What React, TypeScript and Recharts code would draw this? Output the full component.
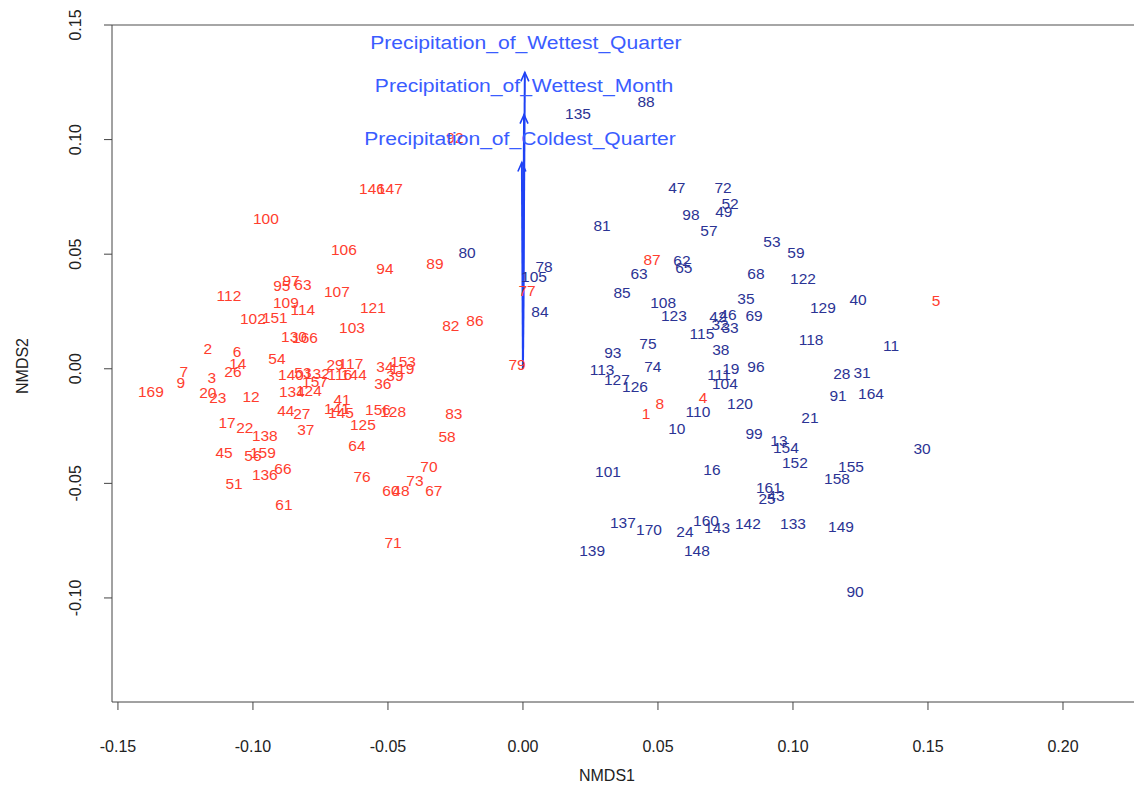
import { ScatterChart, Scatter, XAxis, YAxis, ReferenceLine, Label } from 'recharts'

// site scores: [site, NMDS1, NMDS2]
const redSites: [string, number, number][] = [
  ['100', -0.0952, 0.0655], ['106', -0.0663, 0.052], ['146', -0.0559, 0.0786], ['147', -0.0493, 0.0786],
  ['92', -0.0252, 0.1009], ['94', -0.0511, 0.0437], ['89', -0.0326, 0.0459], ['97', -0.0859, 0.0384],
  ['95', -0.0893, 0.0362], ['63', -0.0815, 0.0367], ['112', -0.1089, 0.0319], ['107', -0.0689, 0.0336],
  ['109', -0.0878, 0.0288], ['114', -0.0815, 0.0258], ['102', -0.1, 0.0218], ['151', -0.0919, 0.0223],
  ['121', -0.0556, 0.0266], ['103', -0.0633, 0.0179], ['82', -0.0267, 0.0188], ['86', -0.0178, 0.021],
  ['130', -0.0848, 0.014], ['166', -0.0807, 0.0135], ['2', -0.1167, 0.0087], ['6', -0.1059, 0.0074],
  ['54', -0.0911, 0.0044], ['7', -0.1256, -0.0013], ['14', -0.1056, 0.0022], ['26', -0.1074, -0.0013],
  ['3', -0.1152, -0.0039], ['9', -0.1267, -0.0061], ['169', -0.1378, -0.01], ['20', -0.1167, -0.0105],
  ['23', -0.113, -0.0127], ['12', -0.1007, -0.0122], ['140', -0.0859, -0.0026], ['53', -0.0815, -0.0017],
  ['132', -0.0763, -0.0022], ['157', -0.077, -0.0057], ['29', -0.0696, 0.0017], ['117', -0.0637, 0.0022],
  ['116', -0.0678, -0.0026], ['144', -0.0626, -0.0026], ['34', -0.0511, 0.0009], ['153', -0.0444, 0.0031],
  ['119', -0.0448, 0], ['39', -0.0474, -0.0031], ['36', -0.0519, -0.0066], ['134', -0.0856, -0.01],
  ['124', -0.0793, -0.0096], ['41', -0.067, -0.0135], ['141', -0.0689, -0.0175], ['145', -0.0674, -0.0192],
  ['44', -0.0878, -0.0183], ['27', -0.0819, -0.0197], ['156', -0.0537, -0.0179], ['128', -0.0481, -0.0188],
  ['125', -0.0593, -0.0245], ['83', -0.0256, -0.0197], ['58', -0.0281, -0.0297], ['17', -0.1096, -0.0236],
  ['22', -0.103, -0.0258], ['138', -0.0956, -0.0293], ['37', -0.0804, -0.0266], ['64', -0.0615, -0.0336],
  ['45', -0.1107, -0.0367], ['56', -0.1, -0.038], ['159', -0.0963, -0.0367], ['136', -0.0956, -0.0463],
  ['66', -0.0889, -0.0437], ['51', -0.107, -0.0502], ['61', -0.0885, -0.0594], ['76', -0.0596, -0.0472],
  ['70', -0.0348, -0.0428], ['73', -0.04, -0.0489], ['60', -0.0489, -0.0533], ['48', -0.0452, -0.0533],
  ['67', -0.033, -0.0533], ['71', -0.0481, -0.076], ['79', -0.0022, 0.0017], ['77', 0.0015, 0.0341],
  ['87', 0.0478, 0.0476], ['4', 0.0667, -0.0127], ['8', 0.0507, -0.0153], ['1', 0.0456, -0.0197],
  ['5', 0.153, 0.0297],
]

const blueSites: [string, number, number][] = [
  ['135', 0.0204, 0.1114], ['88', 0.0456, 0.1166], ['80', -0.0207, 0.0507], ['78', 0.0078, 0.0445],
  ['105', 0.0041, 0.0402], ['84', 0.0063, 0.0249], ['47', 0.057, 0.079], ['72', 0.0741, 0.079],
  ['52', 0.0767, 0.0721], ['49', 0.0744, 0.0686], ['98', 0.0622, 0.0672], ['81', 0.0293, 0.0624],
  ['57', 0.0689, 0.0603], ['53', 0.0922, 0.0555], ['59', 0.1011, 0.0507], ['62', 0.0589, 0.0472],
  ['65', 0.0596, 0.0441], ['63', 0.043, 0.0415], ['68', 0.0863, 0.0415], ['122', 0.1037, 0.0393],
  ['85', 0.0367, 0.0332], ['35', 0.0826, 0.0306], ['40', 0.1241, 0.0301], ['108', 0.0519, 0.0288],
  ['129', 0.1111, 0.0266], ['123', 0.0559, 0.0231], ['46', 0.0759, 0.0236], ['42', 0.0722, 0.0227],
  ['32', 0.073, 0.0192], ['33', 0.0767, 0.0179], ['69', 0.0856, 0.0231], ['115', 0.0663, 0.0153],
  ['118', 0.1067, 0.0127], ['75', 0.0463, 0.0109], ['11', 0.1363, 0.01], ['38', 0.0733, 0.0083],
  ['93', 0.0333, 0.007], ['74', 0.0481, 0.0009], ['113', 0.0293, -0.0004], ['19', 0.077, 0],
  ['96', 0.0863, 0.0009], ['111', 0.0726, -0.0026], ['127', 0.0348, -0.0048], ['104', 0.0748, -0.0066],
  ['126', 0.0415, -0.0079], ['28', 0.1181, -0.0022], ['31', 0.1256, -0.0017], ['91', 0.1167, -0.0118],
  ['164', 0.1289, -0.0109], ['120', 0.0804, -0.0153], ['110', 0.0648, -0.0188], ['21', 0.1063, -0.0214],
  ['10', 0.057, -0.0262], ['99', 0.0856, -0.0284], ['13', 0.0948, -0.0314], ['154', 0.0974, -0.0345],
  ['30', 0.1478, -0.0349], ['152', 0.1007, -0.041], ['155', 0.1215, -0.0428], ['16', 0.07, -0.0441],
  ['101', 0.0315, -0.045], ['158', 0.1163, -0.048], ['161', 0.0911, -0.052], ['25', 0.0904, -0.0568],
  ['43', 0.0937, -0.0555], ['137', 0.037, -0.0672], ['160', 0.0678, -0.0664], ['142', 0.0833, -0.0677],
  ['133', 0.1, -0.0677], ['149', 0.1178, -0.069], ['170', 0.0467, -0.0703], ['24', 0.06, -0.0712],
  ['143', 0.0719, -0.0694], ['139', 0.0256, -0.0795], ['148', 0.0644, -0.0795], ['90', 0.123, -0.0974],
]

// envfit vectors
const vectorNames = [
  'Precipitation_of_Wettest_Quarter',
  'Precipitation_of_Wettest_Month',
  'Precipitation_of_Coldest_Quarter',
]
const vectorTips: [number, number][] = [[0.0007, 0.1293], [0.0004, 0.1109], [-0.0004, 0.09]]
const vectorLabelAt: [number, number][] = [[0.0011, 0.1424], [0.0004, 0.1236], [-0.0011, 0.1004]]

const xTicks = [-0.15, -0.1, -0.05, 0, 0.05, 0.1, 0.15, 0.2]
const yTicks = [-0.1, -0.05, 0, 0.05, 0.1, 0.15]

const X_DOMAIN: [number, number] = [-0.1522, 0.2263]
const Y_DOMAIN: [number, number] = [-0.1454, 0.15]

const FONT = '"Liberation Sans", Arial, sans-serif'
const RED = '#ff3d2e'
const NAVY = '#2b3394'
const ARROW = '#1f42f5'
const AXIS = '#444'

const toPoints = (rows: [string, number, number][]) => rows.map(([label, x, y]) => ({ x, y, label }))

function siteText(color: string) {
  return (props: any) => (
    <text x={props.cx} y={props.cy} dy="0.35em" textAnchor="middle" fill={color}
      fontSize={15.5} fontFamily={FONT}>
      {props.payload.label}
    </text>
  )
}

function arrowHead(props: any) {
  if (!props.payload.tip) return <g />
  const { cx, cy } = props
  return <path d={`M${cx - 4},${cy + 9} L${cx},${cy} L${cx + 4},${cy + 9}`} stroke={ARROW} strokeWidth={1.6} fill="none" />
}

function vectorLabel(p: any) {
  // the source image is a little stretched sideways
  return (
    <g transform={`translate(${p.cx},${p.cy}) scale(1.11,1)`}>
      <text x={0} y={0} dy="0.35em" textAnchor="middle" fill="#3a5cff" fontSize={19} fontFamily={FONT}>
        {p.payload.label}
      </text>
    </g>
  )
}

function XTick(props: any) {
  return (
    <text x={props.x} y={746} dy="0.35em" textAnchor="middle" fill="#222" fontSize={16} fontFamily={FONT}>
      {props.payload.value.toFixed(2)}
    </text>
  )
}

function YTick(props: any) {
  return (
    <text x={75} y={props.y} transform={`rotate(-90 75 ${props.y})`} dy="0.35em" textAnchor="middle"
      fill="#222" fontSize={16} fontFamily={FONT}>
      {props.payload.value.toFixed(2)}
    </text>
  )
}

export default function App() {
  return (
    <div style={{ position: 'absolute', left: 0, top: 0, background: '#fff' }}>
      <ScatterChart width={1134} height={787} margin={{ top: 25, right: 0, bottom: 0, left: 0 }}>
        <XAxis type="number" dataKey="x" domain={X_DOMAIN} ticks={xTicks} allowDataOverflow
          height={85} tick={<XTick />} tickSize={8} stroke={AXIS} tickLine={{ stroke: AXIS }}>
          <Label content={() => (
            <text x={607} y={775} dy="0.35em" textAnchor="middle" fill="#222" fontSize={16} fontFamily={FONT}>NMDS1</text>
          )} />
        </XAxis>
        <YAxis type="number" dataKey="y" domain={Y_DOMAIN} ticks={yTicks} allowDataOverflow
          width={112} tick={<YTick />} tickSize={8} stroke={AXIS} tickLine={{ stroke: AXIS }}>
          <Label content={() => (
            <text x={22} y={366} transform="rotate(-90 22 366)" dy="0.35em" textAnchor="middle" fill="#222"
              fontSize={16} fontFamily={FONT}>NMDS2</text>
          )} />
        </YAxis>
        <ReferenceLine y={0.15} stroke="#888" strokeWidth={1.5} />

        {vectorTips.map(([tx, ty], i) => (
          <Scatter key={vectorNames[i]} data={[{ x: 0, y: 0 }, { x: tx, y: ty, tip: true }]}
            line={{ stroke: ARROW, strokeWidth: 2 }} shape={arrowHead} isAnimationActive={false} />
        ))}

        <Scatter data={toPoints(redSites)} shape={siteText(RED)} isAnimationActive={false} />
        <Scatter data={toPoints(blueSites)} shape={siteText(NAVY)} isAnimationActive={false} />

        <Scatter data={vectorLabelAt.map(([x, y], i) => ({ x, y, label: vectorNames[i] }))}
          shape={vectorLabel} isAnimationActive={false} />
      </ScatterChart>
    </div>
  )
}
